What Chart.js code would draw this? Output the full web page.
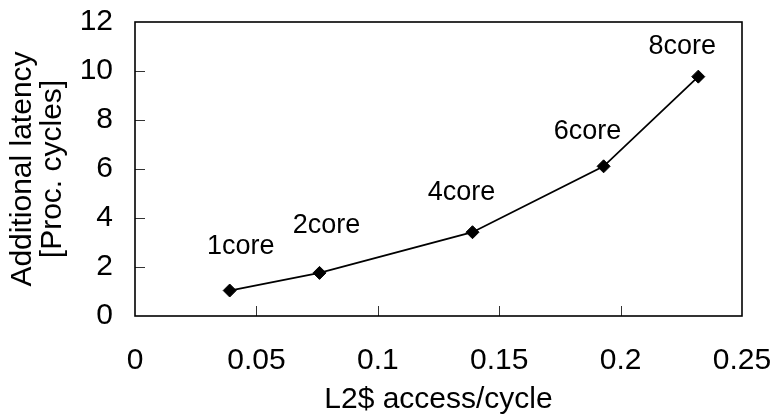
<!DOCTYPE html>
<html>
<head>
<meta charset="utf-8">
<script src="https://cdn.jsdelivr.net/npm/chart.js@4/dist/chart.umd.min.js"></script>
<style>
  html, body { margin: 0; padding: 0; background: #ffffff; }
  #wrap { position: relative; width: 776px; height: 418px; }
</style>
</head>
<body>
<div id="wrap"><canvas id="chart" width="776" height="418"></canvas></div>
<script>
// Core configurations and their measured cache traffic / latency cost
const coreLabels = ['1core', '2core', '4core', '6core', '8core'];
const accessPerCycle = [0.039, 0.076, 0.139, 0.193, 0.232];
const additionalLatency = [1.04, 1.76, 3.42, 6.11, 9.77];

// Axis tick values
const xTickValues = [0, 0.05, 0.1, 0.15, 0.2, 0.25];
const yTickValues = [0, 2, 4, 6, 8, 10, 12];

const FONT = "'Liberation Sans', Arial, sans-serif";

// Where each core label sits relative to its point
const labelOffsets = [[11, -44], [7, -47], [-11, -40], [-16, -35], [-16, -30]];

// Frame around the plot area plus short inward tick marks
const framePlugin = {
  id: 'frame',
  afterDraw(chart) {
    const { ctx, chartArea: a, scales } = chart;
    ctx.save();
    ctx.strokeStyle = '#333';
    ctx.lineWidth = 1;
    ctx.beginPath();
    yTickValues.forEach(v => {
      if (v === 0 || v === 12) return;
      const y = Math.round(scales.y.getPixelForValue(v)) + 0.5;
      ctx.moveTo(a.left, y);
      ctx.lineTo(a.left + 10, y);
    });
    xTickValues.forEach(v => {
      if (v === 0 || v === 0.25) return;
      const x = Math.round(scales.x.getPixelForValue(v)) + 0.5;
      ctx.moveTo(x, a.bottom);
      ctx.lineTo(x, a.bottom - 10);
    });
    ctx.stroke();
    ctx.strokeStyle = '#000';
    ctx.lineWidth = 1.6;
    ctx.strokeRect(a.left, a.top, a.right - a.left, a.bottom - a.top);
    ctx.restore();
  }
};

// Core-count labels above each point
const pointLabelPlugin = {
  id: 'pointLabels',
  afterDatasetsDraw(chart) {
    const { ctx } = chart;
    const meta = chart.getDatasetMeta(0);
    ctx.save();
    ctx.font = '27px ' + FONT;
    ctx.fillStyle = '#000';
    ctx.textAlign = 'center';
    ctx.textBaseline = 'middle';
    meta.data.forEach((pt, i) => {
      const [dx, dy] = labelOffsets[i];
      ctx.fillText(coreLabels[i], pt.x + dx, pt.y + dy);
    });
    ctx.restore();
  }
};

new Chart(document.getElementById('chart'), {
  type: 'scatter',
  data: {
    datasets: [{
      data: accessPerCycle.map((x, i) => ({ x, y: additionalLatency[i] })),
      showLine: true,
      borderColor: '#000',
      borderWidth: 1.8,
      pointStyle: 'rectRot',
      pointRadius: 6.5,
      pointHoverRadius: 6.5,
      pointBackgroundColor: '#000',
      pointBorderColor: '#000',
      pointBorderWidth: 1
    }]
  },
  options: {
    responsive: false,
    animation: false,
    events: [],
    layout: { padding: { left: 0, top: 22, right: 34, bottom: 0 } },
    plugins: {
      legend: { display: false },
      tooltip: { enabled: false }
    },
    scales: {
      x: {
        type: 'linear',
        min: 0,
        max: 0.25,
        afterBuildTicks(scale) { scale.ticks = xTickValues.map(v => ({ value: v })); },
        afterFit(scale) {
          scale.height = 102;
          scale.paddingLeft = 0;
          scale.paddingRight = 0;
        },
        grid: { display: false, drawTicks: false },
        border: { display: false },
        ticks: {
          padding: 27,
          color: '#000',
          font: { family: FONT, size: 30 },
          maxRotation: 0,
          callback: v => String(+v.toFixed(2))
        },
        title: {
          display: true,
          text: 'L2$ access/cycle',
          color: '#000',
          font: { family: FONT, size: 30 },
          padding: { top: 0, bottom: 0 }
        }
      },
      y: {
        type: 'linear',
        min: 0,
        max: 12,
        afterBuildTicks(scale) { scale.ticks = yTickValues.map(v => ({ value: v })); },
        afterFit(scale) {
          scale.width = 135;
          scale.paddingTop = 0;
          scale.paddingBottom = 0;
        },
        grid: { display: false, drawTicks: false },
        border: { display: false },
        ticks: {
          padding: 22,
          color: '#000',
          font: { family: FONT, size: 30 }
        },
        title: {
          display: true,
          text: ['Additional latency', '[Proc. cycles]'],
          color: '#000',
          font: { family: FONT, size: 30, lineHeight: 1.0 },
          padding: { top: 8, bottom: 0 }
        }
      }
    }
  },
  plugins: [framePlugin, pointLabelPlugin]
});
</script>
</body>
</html>
